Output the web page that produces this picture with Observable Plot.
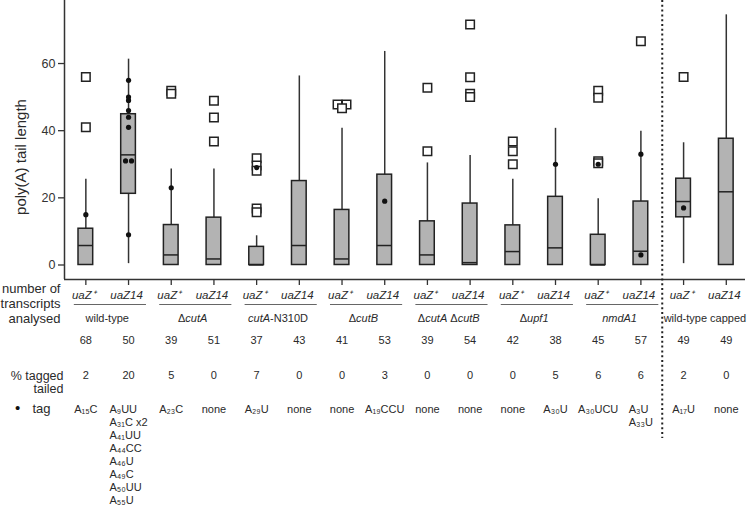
<!DOCTYPE html>
<html><head><meta charset="utf-8">
<script src="https://cdn.jsdelivr.net/npm/d3@7"></script>
<script src="https://cdn.jsdelivr.net/npm/@observablehq/plot@0.6"></script>
<style>body{margin:0;background:#fff;} svg{display:block;}</style>
</head><body>
<script>
// ---- data ----
const samples = ["uaZ⁺","uaZ14","uaZ⁺","uaZ14","uaZ⁺","uaZ14","uaZ⁺","uaZ14","uaZ⁺","uaZ14","uaZ⁺","uaZ14","uaZ⁺","uaZ14","uaZ⁺","uaZ14"];
const groups = ["wild-type","Δ*cutA*","*cutA*-N310D","Δ*cutB*","Δ*cutA* Δ*cutB*","Δ*upf1*","*nmdA1*","wild-type capped"];
const underlined = [true,true,true,true,true,true,true,false];
const counts = [68,50,39,51,37,43,41,53,39,54,42,38,45,57,49,49];
const pctTagged = [2,20,5,0,7,0,0,3,0,0,0,5,6,6,2,0];
const tags = ["A₁₅C","A₉UU\nA₃₁C x2\nA₄₁UU\nA₄₄CC\nA₄₆U\nA₄₉C\nA₅₀UU\nA₅₅U","A₂₃C","none","A₂₉U","none","none","A₁₉CCU","none","none","none","A₃₀U","A₃₀UCU","A₃U\nA₃₃U","A₁₇U","none"];
const q1 =          [0,   21.2, 0,    0,    0,   0,    0,    0,    0,    0,    0,    0,    0,    0,    14.2, 0];
const median =      [5.8, 32.8, 3.0,  1.8,  0,   5.8,  1.8,  5.8,  3.0,  0.7,  4.0,  5.1,  0,    4.1,  18.9, 21.8];
const q3 =          [10.8,44.9, 11.9, 14.1, 5.4, 25.0, 16.4, 26.9, 13.0, 18.3, 11.8, 20.3, 9.0,  18.9, 25.7, 37.6];
const whiskerLow =  [0,   0.4,  0,    0,    0,   0,    0,    0,    0,    0,    0,    0,    0,    0,    0.4,  0];
const whiskerHigh = [25.5,61.3, 28.6, 28.6, 8.7, 56.3, 40.7, 63.6, 30.4, 32.6, 25.5, 40.7, 19.7, 39.8, 36.4, 74.5];
const outliers = [[56.0,41.0],[],[51.9,51.0],[48.9,43.9,36.8],[31.8,29.6,28.1,16.8,15.7],[],[47.8,47.8,46.7],[],[52.8,33.9],[71.6,55.9,51.0,50.0],[36.8,33.9,30.0],[],[51.9,49.8,30.9,30.3],[66.6],[56.0],[]];
const tagged = [[15],[9,31,31,41,44,46,49,50,55],[23],[],[29],[],[],[19],[],[],[],[30],[30],[3,33],[17],[]];
const yTicks = [0,20,40,60];

// ---- build tables ----
const n = samples.length;
const idx = d3.range(1, n + 1);
const Y0 = -4.32, Y1 = 78.77;
const BW = 0.172;
const boxes = idx.map((i, k) => ({i, q1: q1[k], med: median[k], q3: q3[k], lo: whiskerLow[k], hi: whiskerHigh[k]}));
function spread(lists, gap) {
  const out = [];
  lists.forEach((vals, k) => {
    const cnt = d3.rollup(vals, v => v.length, v => v);
    const seen = new Map();
    vals.forEach(v => {
      const c = cnt.get(v), j = seen.get(v) || 0; seen.set(v, j + 1);
      out.push({x: k + 1 + (j - (c - 1) / 2) * gap, y: v});
    });
  });
  return out;
}
const outPts = spread(outliers, 0.21);
const tagPts = spread(tagged, 0.14);
const grp = groups.map((g, k) => ({label: g, a: 2 * k + 1, b: 2 * k + 2, u: underlined[k]}));
const rows = idx.map((i, k) => ({i, s: samples[k], c: counts[k], p: pctTagged[k], t: tags[k]}));
const font = "'Liberation Sans', Arial, Helvetica, sans-serif";
const tc = "#2a2a2a";

const plot = Plot.plot({
  width: 750, height: 507,
  marginLeft: 64, marginRight: 5, marginTop: 0, marginBottom: 228,
  x: {type: "linear", domain: [0.5, 16.45], axis: null},
  y: {domain: [Y0, Y1], axis: null},
  style: {fontFamily: font, background: "#fff", color: "#222", overflow: "visible"},
  marks: [
    Plot.ruleX(boxes, {x: "i", y1: "lo", y2: "hi", stroke: "#333", strokeWidth: 1.5}),
    Plot.rect(boxes, {x1: d => d.i - BW, x2: d => d.i + BW, y1: "q1", y2: "q3", fill: "#b3b3b3", stroke: "#222", strokeWidth: 1.5}),
    Plot.ruleY(boxes, {x1: d => d.i - BW, x2: d => d.i + BW, y: "med", stroke: "#222", strokeWidth: 1.5}),
    Plot.dot(outPts, {x: "x", y: "y", symbol: "square", r: 4.8, fill: "#fff", stroke: "#222", strokeWidth: 1.5}),
    Plot.dot(tagPts, {x: "x", y: "y", r: 2.6, fill: "#111", stroke: "none"}),
    Plot.ruleX([0.5], {stroke: "#333", strokeWidth: 1.5}),
    Plot.ruleY([Y0], {stroke: "#333", strokeWidth: 1.5}),
    Plot.ruleX([14.5], {stroke: "#222", strokeWidth: 2, strokeDasharray: "2,2.8", insetBottom: -159}),
    Plot.axisY(yTicks, {tickSize: 6, tickPadding: 3, fontSize: 12.5, label: null, color: "#333", strokeWidth: 1.3}),
    Plot.axisX(idx, {tickSize: 6, tickFormat: () => "", label: null, color: "#333", strokeWidth: 1.3}),
    Plot.text(["poly(A) tail length"], {frameAnchor: "left", textAnchor: "middle", lineAnchor: "middle", rotate: -90, dx: -43, dy: 17, fontSize: 15, fill: tc}),
    // row headers
    Plot.text(["number of\ntranscripts\nanalysed"], {frameAnchor: "bottom-left", textAnchor: "end", lineAnchor: "middle", dx: -4, dy: 24, lineHeight: 1.15, fontSize: 13, fill: tc}),
    Plot.text(["% tagged\ntailed"], {frameAnchor: "bottom-left", textAnchor: "end", lineAnchor: "middle", dx: -1, dy: 102.5, lineHeight: 1.08, fontSize: 12.5, fill: tc}),
    Plot.text(["tag"], {frameAnchor: "bottom-left", textAnchor: "end", lineAnchor: "middle", dx: -14, dy: 129, fontSize: 13, fill: tc}),
    Plot.text(["•"], {frameAnchor: "bottom-left", textAnchor: "middle", lineAnchor: "middle", dx: -47, dy: 128.5, fontSize: 15, fill: "#111"}),
    // table
    Plot.text(rows, {x: "i", text: "s", frameAnchor: "bottom", lineAnchor: "middle", dx: -2, dy: 16, fontSize: 11.5, fontStyle: "italic", fill: tc}),
    Plot.ruleY(grp.filter(d => d.u), {x1: d => d.a - 0.27, x2: d => d.b + 0.42, y: () => Y0, dy: 25, stroke: "#666", strokeWidth: 1}),
    Plot.text(grp, {x: d => (d.a + d.b) / 2, text: "label", frameAnchor: "bottom", lineAnchor: "middle", dy: 39, fontSize: 11, fill: tc}),
    Plot.text(rows, {x: "i", text: d => String(d.c), frameAnchor: "bottom", lineAnchor: "middle", dy: 61, fontSize: 11, fill: tc}),
    Plot.text(rows, {x: "i", text: d => String(d.p), frameAnchor: "bottom", lineAnchor: "middle", dy: 96, fontSize: 11, fill: tc}),
    Plot.text(rows, {x: "i", text: "t", frameAnchor: "bottom", lineAnchor: "top", dy: 124, lineHeight: 1.18, fontSize: 11, fill: tc})
  ]
});
document.body.appendChild(plot);

// italic parts of group labels (marked with *)
d3.select(plot).selectAll("text").each(function() {
  if (!this.textContent.includes("*") || this.querySelector("tspan")) return;
  const el = d3.select(this);
  const parts = this.textContent.split("*");
  el.text(null);
  parts.forEach((p, j) => { if (p) el.append("tspan").attr("font-style", j % 2 ? "italic" : null).text(p); });
});
// left-align lines inside multi-line tag blocks, keeping the block centred
d3.select(plot).selectAll("text").each(function() {
  const ts = this.querySelectorAll("tspan");
  if (ts.length < 2 || !ts[0].textContent.startsWith("A")) return;
  const w = this.getBBox().width;
  this.setAttribute("text-anchor", "start");
  ts.forEach(t => t.setAttribute("x", -w / 2));
});
</script>
</body></html>
